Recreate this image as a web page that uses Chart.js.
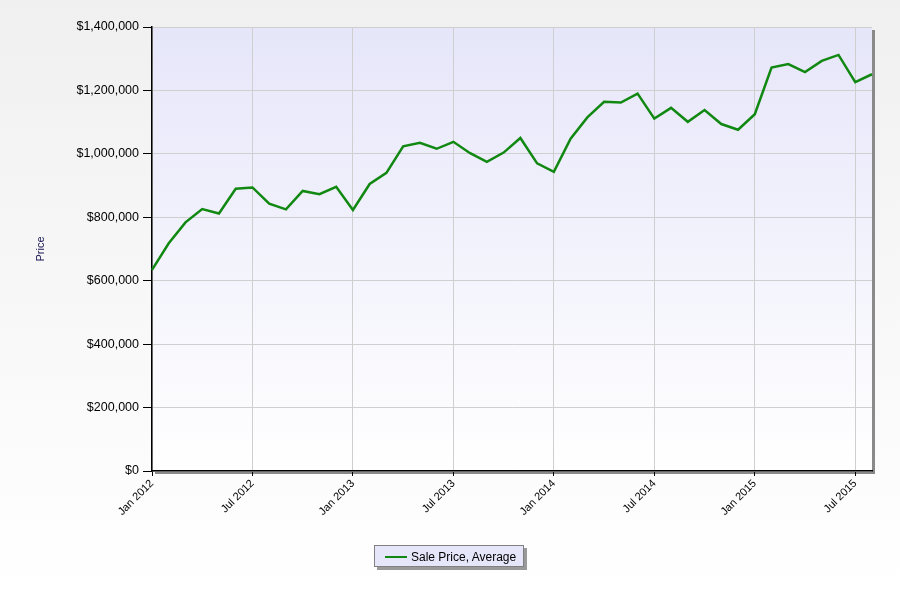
<!DOCTYPE html>
<html>
<head>
<meta charset="utf-8">
<script src="https://cdn.jsdelivr.net/npm/chart.js@4/dist/chart.umd.min.js"></script>
<style>
  html, body { margin: 0; padding: 0; }
  #wrap { position: relative; width: 900px; height: 590px; font-family: "Liberation Sans", Arial, sans-serif; }
  #legend {
    position: absolute; left: 374px; top: 545px; width: 150px; height: 22px;
    background: #e6e6fa; border: 1px solid #808080; box-shadow: 3px 3px 0 #9a9a9a;
    font-size: 12px; color: #000; box-sizing: border-box;
  }
  #legend .mark { position: absolute; left: 10px; top: 10px; width: 22px; height: 2px; background: #118811; }
  #legend .txt { position: absolute; left: 36px; top: 4px; white-space: nowrap; }
</style>
</head>
<body>
<div id="wrap">
  <canvas id="chart" width="900" height="590"></canvas>
  <div id="legend"><span class="mark"></span><span class="txt">Sale Price, Average</span></div>
</div>
<script>
// monthly labels, Jan 2012 .. Aug 2015
const months = ['Jan', 'Feb', 'Mar', 'Apr', 'May', 'Jun', 'Jul', 'Aug', 'Sep', 'Oct', 'Nov', 'Dec'];
const years = [2012, 2013, 2014, 2015];
const labels = [];
years.forEach(y => months.forEach((m, i) => {
    if (y < 2015 || i < 8) labels.push(m + ' ' + y);
}));

const salePriceAvg = [
    634000, 718000, 784000, 826000, 812000, 890000, 894000, 843000, 825000, 883000, 873000, 896000,
    823000, 905000, 940000, 1024000, 1035000, 1016000, 1038000, 1002000, 975000, 1004000, 1050000, 970000,
    943000, 1048000, 1115000, 1164000, 1162000, 1190000, 1111000, 1145000, 1101000, 1138000, 1094000, 1076000,
    1125000, 1272000, 1283000, 1258000, 1293000, 1312000, 1226000, 1251000
];

const yTicks = [0, 200000, 400000, 600000, 800000, 1000000, 1200000, 1400000];

const isMajor = i => /^(Jan|Jul)/.test(labels[i]);

// page + plot area backgrounds, plot shadow
const backdrop = {
    id: 'backdrop',
    beforeDraw(chart) {
        const { ctx, chartArea: a } = chart;
        ctx.save();
        let g = ctx.createLinearGradient(0, 0, 0, chart.height);
        g.addColorStop(0, '#f0f0f0');
        g.addColorStop(1, '#ffffff');
        ctx.fillStyle = g;
        ctx.fillRect(0, 0, chart.width, chart.height);
        ctx.fillStyle = '#8a8a8a';
        ctx.fillRect(a.left + 3, a.top + 3, a.right - a.left, a.bottom - a.top);
        g = ctx.createLinearGradient(0, a.top, 0, a.bottom);
        g.addColorStop(0, '#e6e6fa');
        g.addColorStop(1, '#ffffff');
        ctx.fillStyle = g;
        ctx.fillRect(a.left, a.top, a.right - a.left, a.bottom - a.top);
        ctx.restore();
    }
};

new Chart(document.getElementById('chart'), {
    type: 'line',
    data: {
        labels: labels,
        datasets: [{
            label: 'Sale Price, Average',
            data: salePriceAvg,
            borderColor: '#118811',
            borderWidth: 2.5,
            pointRadius: 0,
            tension: 0
        }]
    },
    options: {
        responsive: false,
        animation: false,
        layout: { padding: { top: 27, right: 28, left: 0, bottom: 0 } },
        plugins: {
            legend: { display: false },
            tooltip: { enabled: false }
        },
        scales: {
            x: {
                type: 'category',
                offset: false,
                afterFit: s => { s.height = 119; },
                grid: {
                    color: c => isMajor(c.index) ? '#cfcfcf' : 'rgba(0,0,0,0)',
                    tickColor: c => isMajor(c.index) ? '#000' : 'rgba(0,0,0,0)',
                    tickLength: 5
                },
                border: { color: '#000', width: 1.5 },
                ticks: {
                    autoSkip: false,
                    maxRotation: 45,
                    minRotation: 45,
                    padding: 1,
                    color: '#000',
                    font: { family: '"Liberation Sans", Arial, sans-serif', size: 11 },
                    callback: (v, i) => isMajor(i) ? labels[i] : ''
                }
            },
            y: {
                min: 0,
                max: 1400000,
                afterFit: s => { s.width = 152; },
                afterBuildTicks: s => { s.ticks = yTicks.map(v => ({ value: v })); },
                grid: { color: '#cfcfcf', tickColor: '#000', tickLength: 9 },
                border: { color: '#000', width: 1.5 },
                ticks: {
                    padding: 4,
                    color: '#000',
                    font: { family: '"Liberation Sans", Arial, sans-serif', size: 12.5 },
                    callback: v => '$' + v.toLocaleString('en-US')
                },
                title: {
                    display: true,
                    text: 'Price',
                    color: '#141450',
                    font: { family: '"Liberation Sans", Arial, sans-serif', size: 11 },
                    padding: { top: 34, bottom: 0 }
                }
            }
        }
    },
    plugins: [backdrop]
});
</script>
</body>
</html>
